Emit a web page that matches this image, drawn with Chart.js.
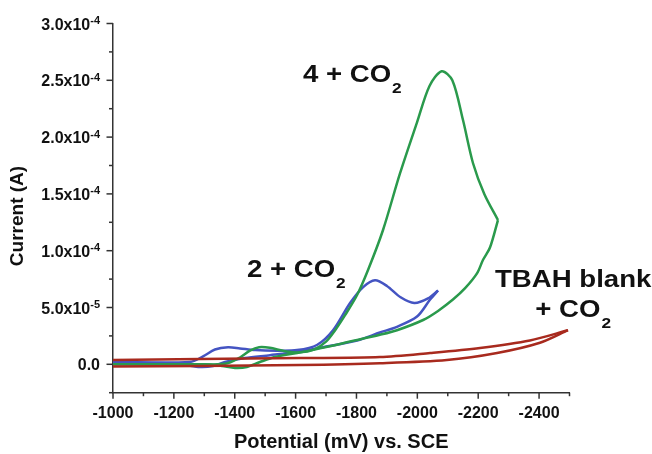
<!DOCTYPE html>
<html>
<head>
<meta charset="utf-8">
<script src="https://cdn.jsdelivr.net/npm/chart.js@4.4.1/dist/chart.umd.min.js"></script>
<style>
  html, body { margin: 0; padding: 0; background: #fff; }
</style>
</head>
<body>
<canvas id="cv" width="652" height="454"></canvas>
<script>
// axis ticks
const potentialTicks = [-1000, -1200, -1400, -1600, -1800, -2000, -2200, -2400];
const currentTicks = [0, 5e-5, 1e-4, 1.5e-4, 2e-4, 2.5e-4, 3e-4];
const currentTickText = ['0.0', '5.0x10', '1.0x10', '1.5x10', '2.0x10', '2.5x10', '3.0x10'];
const currentTickPower = ['', '-5', '-4', '-4', '-4', '-4', '-4'];

// 4 + CO2, cathodic sweep then return (potential in mV, current in A)
const cat4FwdE = [-1000, -1250, -1368, -1417, -1450, -1480, -1515, -1565, -1614, -1660, -1700, -1730, -1762, -1802, -1838, -1887, -1943, -1999, -2040, -2080, -2115, -2150, -2183, -2220, -2265];
const cat4FwdI = [0, 0, 0.5e-6, 6e-6, 1.2e-5, 1.5e-5, 1.45e-5, 1.15e-5, 1.05e-5, 1.3e-5, 2.0e-5, 3.0e-5, 4.3e-5, 6.1e-5, 8.3e-5, 1.18e-4, 1.68e-4, 2.13e-4, 2.45e-4, 2.58e-4, 2.50e-4, 2.15e-4, 1.77e-4, 1.50e-4, 1.27e-4];
const cat4RevE = [-2265, -2239, -2216, -2196, -2157, -2117, -2068, -2019, -1933, -1877, -1779, -1680, -1605, -1532, -1483, -1440, -1401, -1358, -1302, -1000];
const cat4RevI = [1.27e-4, 1.03e-4, 9.2e-5, 8.0e-5, 6.7e-5, 5.7e-5, 4.7e-5, 3.9e-5, 3.0e-5, 2.6e-5, 2.0e-5, 1.4e-5, 1.0e-5, 6.4e-6, 2e-6, -2.4e-6, -3.2e-6, -1.5e-6, 0, 0];

// 2 + CO2
const cat2FwdE = [-1000, -1253, -1296, -1335, -1378, -1417, -1467, -1539, -1605, -1670, -1723, -1779, -1822, -1861, -1900, -1945, -1990, -2035, -2068];
const cat2FwdI = [2e-6, 2e-6, 7e-6, 1.3e-5, 1.5e-5, 1.4e-5, 1.25e-5, 1.2e-5, 1.25e-5, 1.7e-5, 3.0e-5, 5.4e-5, 6.8e-5, 7.4e-5, 6.9e-5, 5.9e-5, 5.4e-5, 5.8e-5, 6.5e-5];
const cat2RevE = [-2068, -2042, -1999, -1933, -1877, -1802, -1690, -1605, -1516, -1434, -1368, -1329, -1286, -1237, -1187, -1000];
const cat2RevI = [6.5e-5, 5.7e-5, 4.2e-5, 3.3e-5, 2.8e-5, 2.1e-5, 1.5e-5, 1.1e-5, 8e-6, 5.5e-6, 2e-6, -1.5e-6, -2.4e-6, -0.6e-6, 1e-6, 1.5e-6];

// TBAH blank + CO2
const blankFwdE = [-1000, -1286, -1614, -1877, -2042, -2206, -2370, -2495];
const blankFwdI = [3.8e-6, 4.6e-6, 5.5e-6, 6.4e-6, 1.0e-5, 1.44e-5, 2.1e-5, 3.0e-5];
const blankRevE = [-2495, -2403, -2262, -2097, -1877, -1614, -1286, -1000];
const blankRevI = [3.0e-5, 1.9e-5, 1.0e-5, 3.8e-6, 1e-6, -0.6e-6, -1.5e-6, -2e-6];

const GREEN = '#2a9a4c';
const BLUE = '#4454c2';
const RED = '#a82a1e';
const INK = '#111';
const AXIS = '#333';
const FONT = '"Liberation Sans", Arial, sans-serif';

function pairs(xs, ys) {
  return xs.map((x, i) => ({ x: x, y: ys[i] }));
}

function trace(xs, ys, color) {
  return {
    data: pairs(xs, ys),
    borderColor: color,
    borderWidth: 2.5,
    showLine: true,
    pointRadius: 0,
    tension: 0.3,
    fill: false,
  };
}

// curve labels, anchored in data units
const notes = [
  { text: '4 + CO', sub: '2', e: -1624, i: 2.485e-4, align: 'left' },
  { text: '2 + CO', sub: '2', e: -1440, i: 7.69e-5, align: 'left' },
  { text: 'TBAH blank', sub: '', e: -2512, i: 6.83e-5, align: 'center' },
  { text: '+ CO', sub: '2', e: -2512, i: 4.19e-5, align: 'center' },
];

const STRETCH = 1.15;

function drawNote(ctx, note, px, py) {
  ctx.font = 'bold 24px ' + FONT;
  const mainW = ctx.measureText(note.text).width * STRETCH;
  ctx.font = 'bold 15px ' + FONT;
  const subW = note.sub ? ctx.measureText(note.sub).width * STRETCH + 1 : 0;
  let x = note.align === 'center' ? px - (mainW + subW) / 2 : px;

  ctx.save();
  ctx.translate(x, py);
  ctx.scale(STRETCH, 1);
  ctx.font = 'bold 24px ' + FONT;
  ctx.fillText(note.text, 0, 0);
  ctx.restore();

  if (note.sub) {
    ctx.save();
    ctx.translate(x + mainW + 1, py + 11);
    ctx.scale(STRETCH, 1);
    ctx.font = 'bold 15px ' + FONT;
    ctx.fillText(note.sub, 0, 0);
    ctx.restore();
  }
}

const decor = {
  id: 'decor',
  afterDraw(chart) {
    const ctx = chart.ctx;
    const xs = chart.scales.x;
    const ys = chart.scales.y;
    const area = chart.chartArea;

    ctx.save();
    ctx.strokeStyle = AXIS;
    ctx.lineWidth = 1.5;

    // x tick marks every 100 mV, longer where labelled
    for (let v = -1000; v >= -2500; v -= 100) {
      const px = xs.getPixelForValue(v);
      const len = potentialTicks.includes(v) ? 6 : 3.5;
      ctx.beginPath();
      ctx.moveTo(px, area.bottom);
      ctx.lineTo(px, area.bottom + len);
      ctx.stroke();
    }

    // y tick marks every 2.5e-5 A
    for (let k = -1; k <= 12; k++) {
      const py = ys.getPixelForValue(k * 2.5e-5);
      const len = k % 2 === 0 ? 6.5 : 4;
      ctx.beginPath();
      ctx.moveTo(area.left, py);
      ctx.lineTo(area.left - len, py);
      ctx.stroke();
    }

    // y tick labels with powers of ten
    ctx.fillStyle = INK;
    ctx.textBaseline = 'alphabetic';
    ctx.textAlign = 'left';
    const right = area.left - 13;
    currentTicks.forEach((v, i) => {
      const py = ys.getPixelForValue(v);
      ctx.font = 'bold 11px ' + FONT;
      const powW = currentTickPower[i] ? ctx.measureText(currentTickPower[i]).width : 0;
      ctx.font = 'bold 16px ' + FONT;
      const txtW = ctx.measureText(currentTickText[i]).width;
      const x0 = right - powW - txtW;
      ctx.fillText(currentTickText[i], x0, py + 6);
      if (currentTickPower[i]) {
        ctx.font = 'bold 11px ' + FONT;
        ctx.fillText(currentTickPower[i], x0 + txtW, py + 0.5);
      }
    });

    // y axis title
    ctx.save();
    ctx.translate(18, 216);
    ctx.rotate(-Math.PI / 2);
    ctx.textAlign = 'center';
    ctx.textBaseline = 'middle';
    ctx.font = 'bold 19px ' + FONT;
    ctx.fillText('Current (A)', 0, 0);
    ctx.restore();

    // curve labels
    ctx.textAlign = 'left';
    notes.forEach(n => {
      drawNote(ctx, n, xs.getPixelForValue(n.e), ys.getPixelForValue(n.i));
    });

    ctx.restore();
  }
};

new Chart(document.getElementById('cv'), {
  type: 'scatter',
  data: {
    datasets: [
      trace(blankFwdE, blankFwdI, RED),
      trace(blankRevE, blankRevI, RED),
      trace(cat4FwdE, cat4FwdI, GREEN),
      trace(cat4RevE, cat4RevI, GREEN),
      trace(cat2FwdE, cat2FwdI, BLUE),
      trace(cat2RevE, cat2RevI, BLUE),
    ],
  },
  options: {
    responsive: false,
    animation: false,
    devicePixelRatio: 1,
    layout: { padding: { top: 23.5, right: 82.5, bottom: 0, left: 0 } },
    plugins: {
      legend: { display: false },
      tooltip: { enabled: false },
    },
    scales: {
      x: {
        type: 'linear',
        reverse: true,
        min: -2500,
        max: -1000,
        afterBuildTicks: s => { s.ticks = potentialTicks.map(v => ({ value: v })); },
        afterFit: s => { s.height = 61.3; },
        border: { color: AXIS, width: 1.5 },
        grid: { drawOnChartArea: false, drawTicks: true, tickLength: 6, tickColor: 'transparent' },
        ticks: {
          color: INK,
          font: { family: FONT, weight: 'bold', size: 16 },
          padding: 5,
          maxRotation: 0,
          autoSkip: false,
          callback: v => String(v),
        },
        title: {
          display: true,
          text: 'Potential (mV) vs. SCE',
          color: INK,
          font: { family: FONT, weight: 'bold', size: 20 },
          padding: { top: 0, bottom: 0 },
        },
      },
      y: {
        type: 'linear',
        min: -2.5e-5,
        max: 3e-4,
        afterBuildTicks: s => { s.ticks = currentTicks.map(v => ({ value: v })); },
        afterFit: s => { s.width = 113; },
        border: { color: AXIS, width: 1.5 },
        grid: { drawOnChartArea: false, drawTicks: false },
        ticks: { display: false },
      },
    },
  },
  plugins: [decor],
});
</script>
</body>
</html>
